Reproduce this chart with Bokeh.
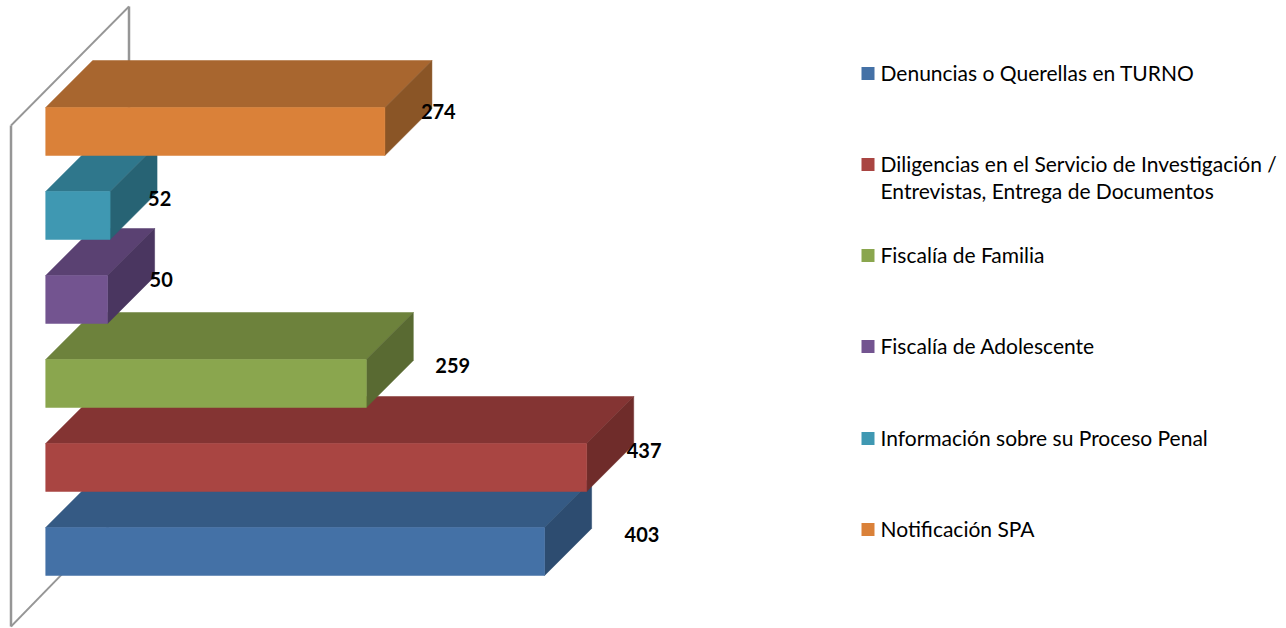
from bokeh.plotting import figure
from bokeh.models import ColumnDataSource, Range1d
from bokeh.core.properties import value
from bokeh.embed import file_html
from bokeh.resources import INLINE

categories = ["Denuncias o Querellas en TURNO",
              "Diligencias en el Servicio de Investigación /\nEntrevistas, Entrega de Documentos",
              "Fiscalía de Familia", "Fiscalía de Adolescente",
              "Información sobre su Proceso Penal", "Notificación SPA"]
values = [403, 437, 259, 50, 52, 274]
front = ["#4471A6", "#A94542", "#8AA64E", "#735490", "#3F98B2", "#DA8139"]
top = ["#355A84", "#843433", "#6D823C", "#5A4172", "#2F778C", "#A8662F"]
side = ["#2D4C70", "#6F2C2A", "#596A32", "#4A3660", "#276374", "#8A5526"]

W, H = 1286, 628
PX_PER_UNIT = 1.238
X0_PX, Y0_PX, ROW_PX, BAR_PX, DEPTH_PX = 45.2, 551, 84, 48, 47

def dx(px):
    return (px - X0_PX) / PX_PER_UNIT

def dy(px):
    return (Y0_PX - px) / ROW_PX

p = figure(width=W, height=H, output_backend="svg", toolbar_location=None,
           x_range=Range1d(dx(0), dx(W)), y_range=Range1d(dy(H), dy(0)),
           min_border=0, outline_line_color=None, background_fill_color="white")
p.axis.visible = False
p.grid.visible = False

# Back wall
wall_colour = "#969696"
p.line([dx(128.5), dx(128.5)], [dy(6), dy(110)], line_color=wall_colour, line_width=2.5)
p.line([dx(10.5), dx(128.5)], [dy(125), dy(6)], line_color=wall_colour, line_width=1.8)
p.line([dx(10.5), dx(10.5)], [dy(125), dy(626)], line_color=wall_colour, line_width=2.5)
p.line([dx(10.5), dx(128.5)], [dy(626), dy(505)], line_color=wall_colour, line_width=1.8)

half = BAR_PX / ROW_PX / 2
ddx = DEPTH_PX / PX_PER_UNIT
ddy = DEPTH_PX / ROW_PX

for i, v in enumerate(values):
    y0, y1 = i - half, i + half
    p.patch([0, v, v + ddx, ddx], [y1, y1, y1 + ddy, y1 + ddy],
            fill_color=top[i], line_color=top[i], line_width=0.5)
    p.patch([v, v + ddx, v + ddx, v], [y0, y0 + ddy, y1 + ddy, y1],
            fill_color=side[i], line_color=side[i], line_width=0.5)
    p.quad(left=0, right=v, bottom=y0, top=y1, fill_color=front[i], line_color=front[i], line_width=0.5)

# Data labels
label_px_offset = [80, 40, 69, 42, 38, 36]
y_adjust = [17, 17, 18, 20, 17, 20]
labels = ColumnDataSource(dict(
    x=[v + off / PX_PER_UNIT for v, off in zip(values, label_px_offset)],
    y=[i + a / ROW_PX for i, a in enumerate(y_adjust)],
    t=[str(v) for v in values]))
p.text(x="x", y="y", text="t", source=labels, text_font=value("Lato"), text_font_style="bold",
       text_font_size="20px", text_color="black", text_align="left", text_baseline="middle")

# Legend
legend_y = [73, 164, 255, 346, 438, 529]
p.rect(x=[dx(867.5)] * 6, y=[dy(y) for y in legend_y],
       width=13 / PX_PER_UNIT, height=13 / ROW_PX, fill_color=front, line_color=None)
leg_x, leg_y, leg_t = [], [], []
for name, y in zip(categories, legend_y):
    for k, line in enumerate(name.split("\n")):
        leg_x.append(dx(880))
        leg_y.append(dy(y - 1.5 + 27.5 * k))
        leg_t.append(line)
p.text(x=leg_x, y=leg_y, text=leg_t, text_font=value("Lato"), text_font_size="21px",
       text_color="black", text_align="left", text_baseline="middle")

open("out.html", "w").write(file_html(p, INLINE))
